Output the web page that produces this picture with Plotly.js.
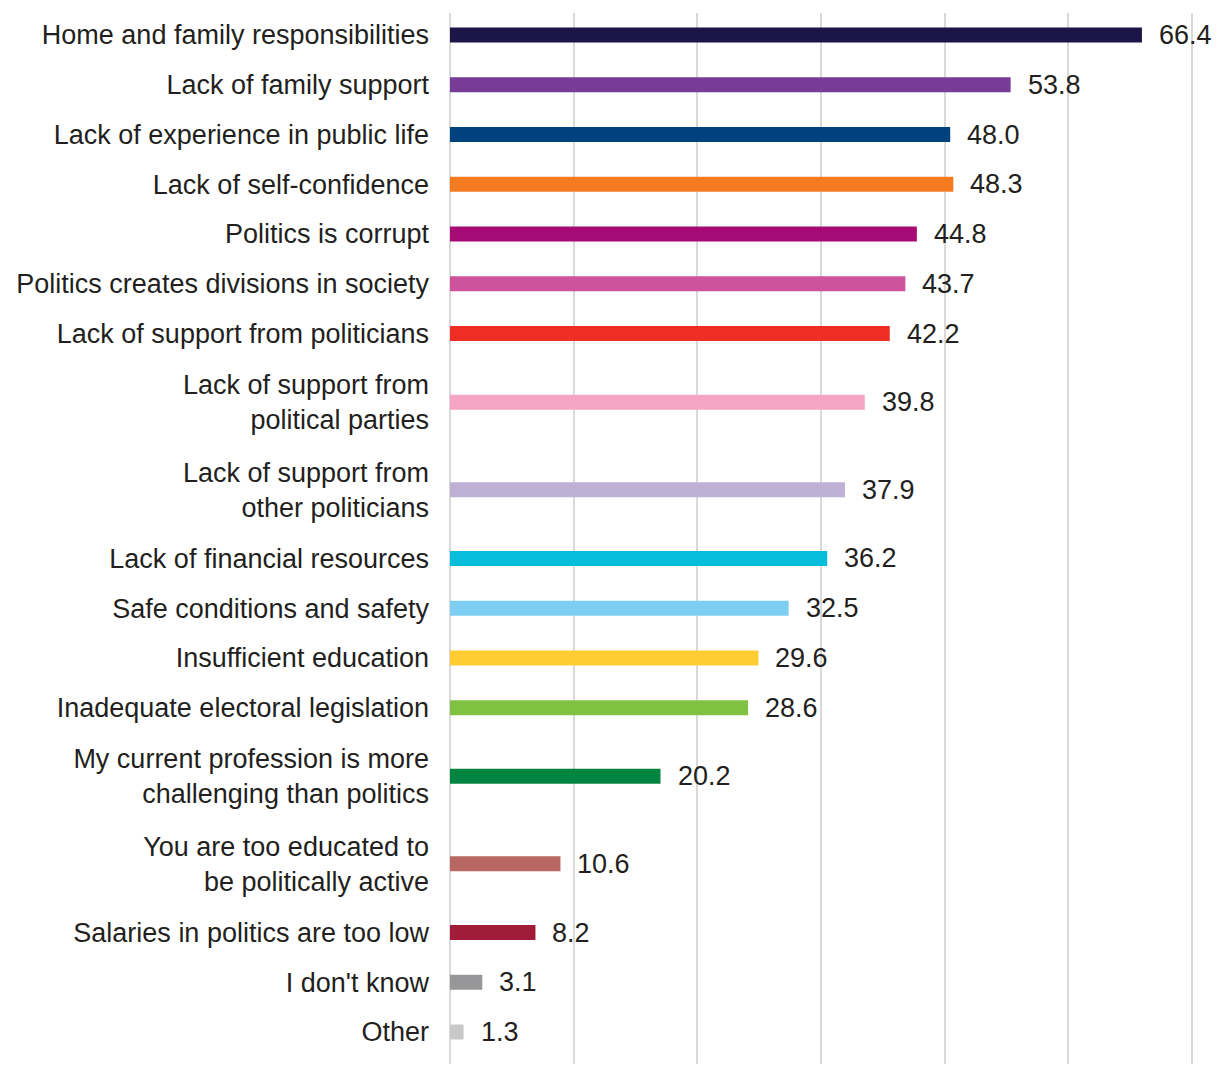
<!DOCTYPE html>
<html>
<head>
<meta charset="utf-8">
<script src="https://cdn.plot.ly/plotly-3.0.1.min.js"></script>
<style>html,body{margin:0;padding:0;background:#fff;}#chart{width:1217px;height:1066px;}</style>
</head>
<body>
<div id="chart"></div>
<script>
const categories = [
  "Home and family responsibilities",
  "Lack of family support",
  "Lack of experience in public life",
  "Lack of self-confidence",
  "Politics is corrupt",
  "Politics creates divisions in society",
  "Lack of support from politicians",
  "Lack of support from<br>political parties",
  "Lack of support from<br>other politicians",
  "Lack of financial resources",
  "Safe conditions and safety",
  "Insufficient education",
  "Inadequate electoral legislation",
  "My current profession is more<br>challenging than politics",
  "You are too educated to<br>be politically active",
  "Salaries in politics are too low",
  "I don't know",
  "Other"
];
const values = [66.4, 53.8, 48.0, 48.3, 44.8, 43.7, 42.2, 39.8, 37.9, 36.2, 32.5, 29.6, 28.6, 20.2, 10.6, 8.2, 3.1, 1.3];
const barColors = ["#1c1547","#763c96","#00427d","#f47b20","#a50a75","#cf529c","#ee2e24","#f5a4c3","#bfb1d6","#06bedc","#7ecef4","#ffcd32","#80c141","#008540","#b86762","#a01c38","#97979a","#c8c8ca"];

const font = "'Liberation Sans', Arial, sans-serif";
const textColor = "#231f20";
const fontSize = 27;

// Row layout: each row takes one slot, plus extra room for multi-line labels.
const extraPerLine = 0.38;
const lineCount = categories.map(c => c.split("<br>").length);
const rowPos = [];
let acc = 0;
for (let i = 0; i < categories.length; i++) {
  if (i > 0) acc += 1 + extraPerLine * ((lineCount[i - 1] - 1) + (lineCount[i] - 1));
  rowPos.push(acc);
}
const last = rowPos[rowPos.length - 1];
// pixel geometry of the band area
const H = 1066, mTop = 13, mBot = 2;
const firstPx = 35, lastPx = 1032;
const ppu = (lastPx - firstPx) / last;
const yRange = [last + (H - mBot - lastPx) / ppu, -(firstPx - mTop) / ppu];

const trace = {
  type: "bar",
  orientation: "h",
  x: values,
  y: rowPos,
  width: 15 / ppu,
  marker: {color: barColors},
  hoverinfo: "x"
};

const annotations = values.map((v, i) => ({
  x: v, y: rowPos[i], xref: "x", yref: "y",
  text: v.toFixed(1), showarrow: false,
  xanchor: "left", yanchor: "middle", xshift: 15,
  font: {family: font, size: fontSize, color: textColor}
}));

const xMax = 71.2;
const layout = {
  width: 1217, height: H,
  margin: {l: 450, r: 24, t: mTop, b: mBot},
  paper_bgcolor: "#fff", plot_bgcolor: "#fff",
  showlegend: false,
  font: {family: font, size: fontSize, color: textColor},
  xaxis: {
    range: [0, xMax + 0.1], dtick: xMax / 6, tick0: 0,
    showticklabels: false, ticks: "",
    showgrid: true, gridcolor: "#d9d9d9", gridwidth: 2,
    zeroline: true, zerolinecolor: "#d9d9d9", zerolinewidth: 2,
    showline: false, fixedrange: true
  },
  yaxis: {
    type: "linear", range: yRange,
    tickmode: "array", tickvals: rowPos, ticktext: categories,
    ticks: "", ticklabelstandoff: 20,
    tickfont: {family: font, size: fontSize, color: textColor},
    showgrid: false, zeroline: false, showline: false, fixedrange: true
  },
  annotations: annotations
};

Plotly.newPlot("chart", [trace], layout, {displayModeBar: false, staticPlot: true});
</script>
</body>
</html>
